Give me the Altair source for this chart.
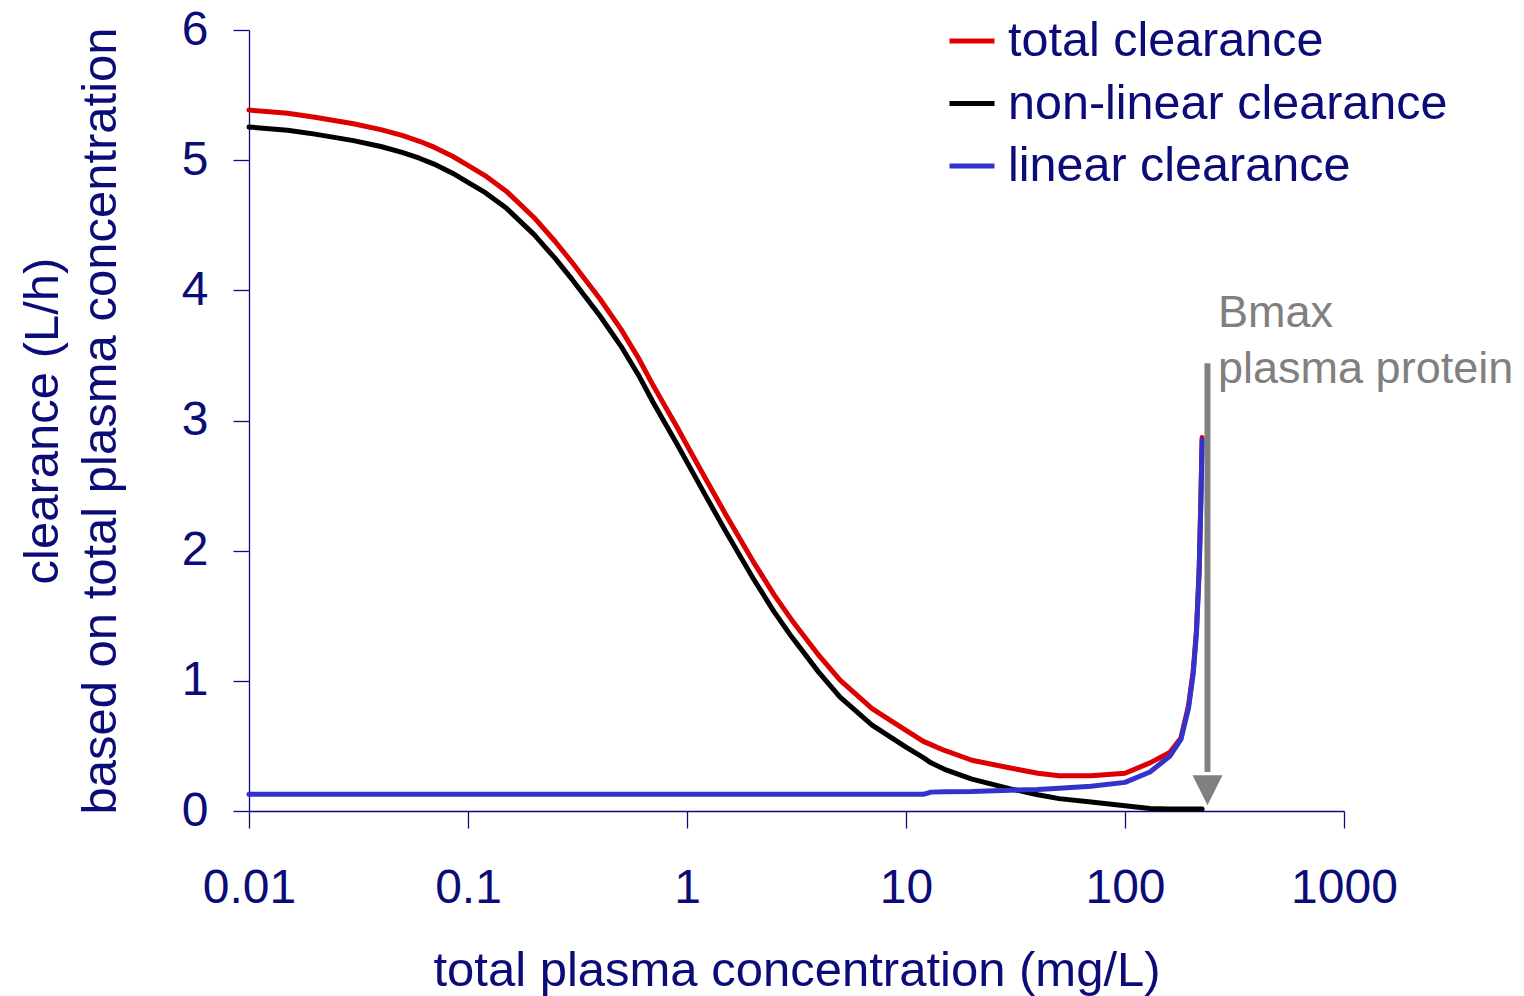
import altair as alt
import pandas as pd

# concentration (mg/L) sample points
conc = [0.01, 0.015, 0.02, 0.03, 0.04, 0.05, 0.06, 0.07, 0.085, 0.1,
        0.12, 0.15, 0.2, 0.25, 0.3, 0.4, 0.5, 0.6, 0.7, 0.8,
        0.9, 1, 1.2, 1.5, 2, 2.5, 3, 4, 5, 7,
        10, 12,
        13, 15, 20, 30, 40, 50, 70, 100, 130, 160,
        180, 195, 205, 212, 218, 222, 225]

total_cl = [5.385, 5.36, 5.33, 5.28, 5.235, 5.19, 5.145, 5.10, 5.03, 4.96,
            4.88, 4.76, 4.56, 4.375, 4.21, 3.935, 3.70, 3.48, 3.27, 3.10,
            2.95, 2.81, 2.57, 2.28, 1.92, 1.66, 1.47, 1.195, 1.005, 0.786,
            0.62, 0.535,
            0.51, 0.465, 0.39, 0.33, 0.29, 0.27, 0.27, 0.29, 0.37, 0.45,
            0.56, 0.81, 1.08, 1.39, 1.85, 2.39, 2.87]

nonlinear_cl = [5.255, 5.23, 5.20, 5.15, 5.105, 5.06, 5.015, 4.97, 4.90, 4.83,
                4.75, 4.63, 4.43, 4.245, 4.08, 3.805, 3.57, 3.35, 3.14, 2.97,
                2.82, 2.68, 2.44, 2.15, 1.79, 1.53, 1.34, 1.065, 0.875, 0.66,
                0.49, 0.41,
                0.37, 0.32, 0.245, 0.17, 0.125, 0.095, 0.07, 0.04, 0.02, 0.015,
                0.015, 0.015, 0.015, 0.015, 0.015, 0.015, 0.015]

linear_cl = [0.128, 0.128, 0.128, 0.128, 0.128, 0.128, 0.128, 0.128, 0.128, 0.128,
             0.128, 0.128, 0.128, 0.128, 0.128, 0.128, 0.128, 0.128, 0.128, 0.128,
             0.128, 0.128, 0.128, 0.128, 0.128, 0.128, 0.128, 0.128, 0.128, 0.128,
             0.128, 0.128,
             0.145, 0.148, 0.15, 0.16, 0.165, 0.175, 0.19, 0.22, 0.30, 0.42,
             0.55, 0.79, 1.06, 1.37, 1.83, 2.37, 2.85]

series_names = ["total clearance", "non-linear clearance", "linear clearance"]
series_colors = ["#dd0000", "#000000", "#3333cc"]

x_ticks = [0.01, 0.1, 1, 10, 100, 1000]
y_ticks = [0, 1, 2, 3, 4, 5, 6]

# Bmax arrow annotation
arrow_x = [238]
arrow_top = [3.44]
arrow_shaft_end = [0.30]
arrow_head_y = [0.16]
note_x = [266, 266]
note_y = [3.72, 3.29]
note_text = ["Bmax", "plasma protein"]

NAVY = "#0c0c78"
FONT = "Liberation Sans"

rows = []
for name, vals in zip(series_names, [total_cl, nonlinear_cl, linear_cl]):
    for c, v in zip(conc, vals):
        rows.append({"conc": c, "cl": v, "series": name})
df = pd.DataFrame(rows)

xscale = alt.Scale(type="log", domain=[0.01, 1000])
yscale = alt.Scale(domain=[0, 6], nice=False)

lines = alt.Chart(df).mark_line(strokeWidth=5, clip=False, strokeJoin="round", strokeCap="round").encode(
    x=alt.X("conc:Q", scale=xscale,
            axis=alt.Axis(values=x_ticks, format="~g", title="total plasma concentration (mg/L)",
                          grid=False, tickSize=17, labelPadding=74, labelBaseline="alphabetic",
                          labelFlush=False, labelOverlap=False,
                          titleY=174, titleBaseline="alphabetic", titlePadding=0)),
    y=alt.Y("cl:Q", scale=yscale,
            axis=alt.Axis(values=y_ticks, format="d", title=["clearance (L/h)", "based on total plasma concentration"],
                          grid=False, tickSize=16, labelPadding=25, labelFlush=False, labelOverlap=False,
                          titleX=-192, titleY=390.5, titleAngle=270, titleAlign="center",
                          titleBaseline="alphabetic", titleLineHeight=58)),
    color=alt.Color("series:N", scale=alt.Scale(domain=series_names, range=series_colors),
                    legend=alt.Legend(title=None, orient="none", legendX=698, legendY=-14,
                                      symbolType="stroke", symbolSize=2025, symbolStrokeWidth=5,
                                      labelFontSize=48.5, labelColor=NAVY, labelFont=FONT,
                                      rowPadding=12.5, labelOffset=11, labelLimit=600)),
    detail="series:N",
)

shaft_df = pd.DataFrame({"x": arrow_x, "y": arrow_top, "y2": arrow_shaft_end})
shaft = alt.Chart(shaft_df).mark_rule(color="#808080", strokeWidth=6).encode(
    x=alt.X("x:Q", scale=xscale), y=alt.Y("y:Q", scale=yscale), y2="y2:Q")

head_df = pd.DataFrame({"x": arrow_x, "y": arrow_head_y})
head = alt.Chart(head_df).mark_point(shape="M-1,-1L1,-1L0,1Z", filled=True, size=900,
                                     color="#808080", opacity=1).encode(
    x=alt.X("x:Q", scale=xscale), y=alt.Y("y:Q", scale=yscale))

note_df = pd.DataFrame({"x": note_x, "y": note_y, "t": note_text})
note = alt.Chart(note_df).mark_text(align="left", baseline="alphabetic", fontSize=45, font=FONT,
                                    color="#808080").encode(
    x=alt.X("x:Q", scale=xscale), y=alt.Y("y:Q", scale=yscale), text="t:N")

chart = alt.layer(lines, shaft, head, note).properties(
    width=1095, height=781,
    autosize=alt.AutoSizeParams(type="none"),
    padding={"left": 249, "top": 30, "right": 180, "bottom": 185},
    background="white",
).configure_view(stroke=None).configure_axis(
    domainColor=NAVY, tickColor=NAVY, domainWidth=1.3, tickWidth=1.3,
    labelColor=NAVY, titleColor=NAVY, labelFont=FONT, titleFont=FONT,
    labelFontSize=48, titleFontSize=49, titleFontWeight="normal",
)

chart.save("out.html", embed_options={"renderer": "svg", "actions": False})
